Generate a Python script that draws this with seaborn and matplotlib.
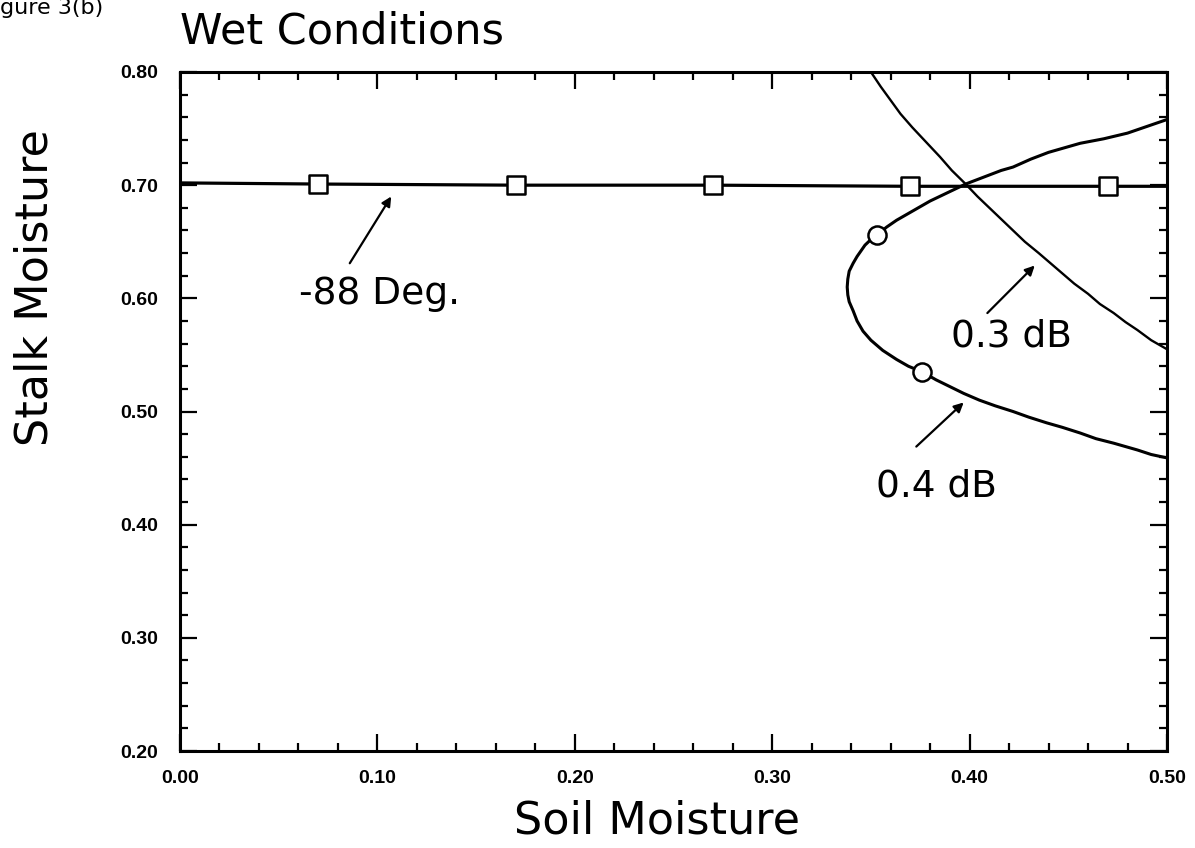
import seaborn as sns
import matplotlib.pyplot as plt
from matplotlib.ticker import MultipleLocator, FormatStrFormatter

# -88 deg line with square markers
deg88_x = [0.0, 0.07, 0.17, 0.27, 0.37, 0.47, 0.50]
deg88_y = [0.702, 0.701, 0.700, 0.700, 0.699, 0.699, 0.699]
sq_x = [0.07, 0.17, 0.27, 0.37, 0.47]
sq_y = [0.701, 0.700, 0.700, 0.699, 0.699]

# 0.3 dB curve
db03_x = [0.350, 0.355, 0.360, 0.365, 0.371, 0.378, 0.385, 0.391, 0.398, 0.404, 0.410, 0.416, 0.422,
          0.428, 0.435, 0.441, 0.447, 0.453, 0.460, 0.466, 0.473, 0.479, 0.485, 0.492, 0.500]
db03_y = [0.800, 0.787, 0.775, 0.763, 0.751, 0.738, 0.725, 0.713, 0.701, 0.690, 0.680, 0.670, 0.660,
          0.650, 0.640, 0.631, 0.622, 0.613, 0.604, 0.595, 0.587, 0.579, 0.572, 0.563, 0.555]

# 0.4 dB curve (C shaped, drawn in order)
db04_x = [0.500, 0.490, 0.480, 0.468, 0.456, 0.448, 0.440, 0.431, 0.422, 0.416, 0.410, 0.404, 0.398,
          0.392, 0.386, 0.380, 0.375, 0.369, 0.363, 0.358, 0.353, 0.350, 0.347, 0.345, 0.343, 0.341,
          0.339, 0.3383, 0.338, 0.3383, 0.339, 0.341, 0.343, 0.346, 0.350, 0.356, 0.363, 0.369, 0.376,
          0.383, 0.390, 0.397, 0.405, 0.413, 0.422, 0.430, 0.439, 0.447, 0.456, 0.464, 0.473, 0.479,
          0.485, 0.492, 0.500]
db04_y = [0.758, 0.752, 0.746, 0.741, 0.737, 0.733, 0.729, 0.723, 0.716, 0.713, 0.709, 0.705, 0.701,
          0.696, 0.691, 0.686, 0.681, 0.675, 0.669, 0.663, 0.656, 0.652, 0.647, 0.642, 0.637, 0.631,
          0.624, 0.617, 0.610, 0.603, 0.597, 0.589, 0.580, 0.571, 0.563, 0.554, 0.546, 0.540, 0.535,
          0.528, 0.522, 0.516, 0.510, 0.505, 0.500, 0.495, 0.490, 0.486, 0.481, 0.476, 0.472, 0.469,
          0.466, 0.462, 0.459]
circ_x = [0.353, 0.376]
circ_y = [0.656, 0.535]

sns.set_theme(style="ticks")
plt.rcParams['font.family'] = ['DejaVu Sans']
plt.rcParams['text.color'] = 'black'
plt.rcParams['xtick.color'] = 'black'
plt.rcParams['ytick.color'] = 'black'

fig = plt.figure(figsize=(11.95, 8.48), dpi=100)
ax = fig.add_axes([180 / 1195, 1 - 751 / 848, (1167 - 180) / 1195, (751 - 72) / 848])

sns.lineplot(x=deg88_x, y=deg88_y, sort=False, estimator=None, color='black', lw=2.3, ax=ax)
sns.lineplot(x=db03_x, y=db03_y, sort=False, estimator=None, color='black', lw=1.7, ax=ax)
sns.lineplot(x=db04_x, y=db04_y, sort=False, estimator=None, color='black', lw=2.2, ax=ax)
sns.scatterplot(x=sq_x, y=sq_y, marker='s', s=150, facecolor='white', edgecolor='black', linewidth=1.8,
                ax=ax, zorder=5)
sns.scatterplot(x=circ_x, y=circ_y, marker='o', s=170, facecolor='white', edgecolor='black', linewidth=1.8,
                ax=ax, zorder=5)

ax.set_xlim(0, 0.5)
ax.set_ylim(0.2, 0.8)
ax.xaxis.set_major_locator(MultipleLocator(0.1))
ax.xaxis.set_minor_locator(MultipleLocator(0.02))
ax.yaxis.set_major_locator(MultipleLocator(0.1))
ax.yaxis.set_minor_locator(MultipleLocator(0.02))
ax.xaxis.set_major_formatter(FormatStrFormatter('%.2f'))
ax.yaxis.set_major_formatter(FormatStrFormatter('%.2f'))
ax.tick_params(which='both', direction='in', top=True, right=True, width=1.6, color='black')
ax.tick_params(which='major', length=12)
ax.tick_params(which='minor', length=6)
ax.tick_params(axis='x', which='major', pad=14)
ax.tick_params(axis='y', which='major', pad=16)
for lab in ax.get_xticklabels() + ax.get_yticklabels():
    lab.set_fontfamily('Liberation Sans')
    lab.set_fontweight('bold')
    lab.set_fontsize(14)
for sp in ax.spines.values():
    sp.set_visible(True)
    sp.set_linewidth(2.2)
    sp.set_color('black')
ax.set_xlabel('')
ax.set_ylabel('')

arrow = dict(arrowstyle='-|>', color='black', lw=1.6, mutation_scale=14, shrinkA=0, shrinkB=0)
ax.annotate('', xy=(0.107, 0.690), xytext=(0.086, 0.631), arrowprops=arrow)
ax.annotate('', xy=(0.433, 0.629), xytext=(0.409, 0.587), arrowprops=arrow)
ax.annotate('', xy=(0.397, 0.508), xytext=(0.373, 0.469), arrowprops=arrow)
ax.text(0.101, 0.604, '-88 Deg.', fontsize=27, ha='center', va='center')
ax.text(0.421, 0.566, '0.3 dB', fontsize=27, ha='center', va='center')
ax.text(0.383, 0.434, '0.4 dB', fontsize=27, ha='center', va='center')

fig.text(180 / 1195, 1 - 44 / 848, 'Wet Conditions', fontsize=31, ha='left', va='baseline')
fig.text(657 / 1195, 1 - 833 / 848, 'Soil Moisture', fontsize=32, ha='center', va='baseline')
fig.text(35 / 1195, 1 - 288 / 848, 'Stalk Moisture', fontsize=32, rotation=90, ha='center', va='center')
fig.text(0, 1 - 14 / 848, 'gure 3(b)', fontsize=16, ha='left', va='baseline')

fig.savefig('out.png', dpi=100, facecolor='white')
